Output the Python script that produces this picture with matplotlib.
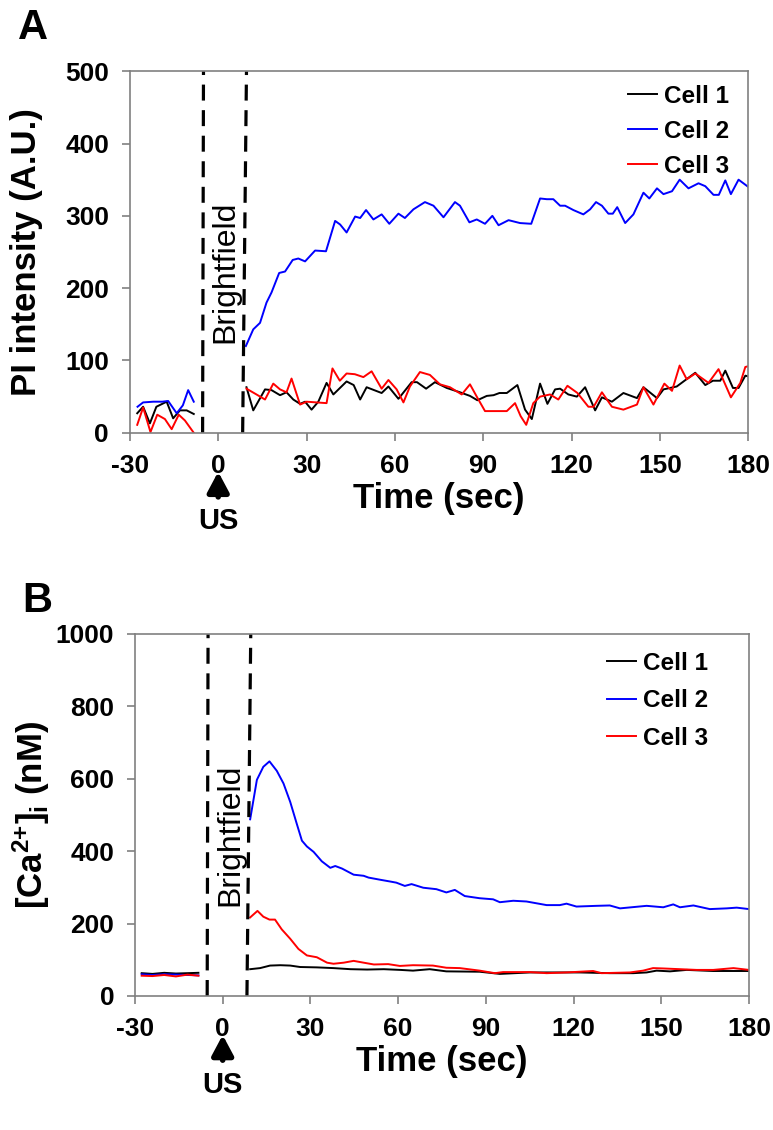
import numpy as np
import matplotlib
matplotlib.use('Agg')
import matplotlib.pyplot as plt

matplotlib.rcParams['font.family'] = ['Liberation Sans', 'DejaVu Sans']
matplotlib.rcParams['mathtext.fontset'] = 'custom'
matplotlib.rcParams['mathtext.rm'] = 'Liberation Sans'
matplotlib.rcParams['mathtext.bf'] = 'Liberation Sans:bold'
matplotlib.rcParams['axes.unicode_minus'] = False

# ---------------- Panel A: PI intensity ----------------
a_c1_pre_t = [-27.5, -25.5, -23.2, -21.0, -17.5, -15.3, -13.0, -10.7, -8.3]
a_c1_pre_v = [27, 36, 13, 36, 43, 20, 31, 31, 26]
a_c2_pre_t = [-27.4, -25.5, -22.0, -19.0, -17.0, -14.1, -12.0, -10.2, -8.3]
a_c2_pre_v = [36, 42, 43, 43, 44, 27, 38, 59, 43]
a_c3_pre_t = [-27.5, -25.5, -23.0, -20.7, -18.1, -15.8, -13.4, -11.3, -8.3]
a_c3_pre_v = [11, 35, 1, 25, 19, 5, 25, 17, 0]

a_c1_t = [9.6, 11.9, 15.9, 18.1, 21.0, 23.2, 25.5, 27.8, 29.5, 31.7, 34.0, 36.8, 39.1, 43.6, 46.0,
          48.2, 50.4, 55.5, 57.8, 61.2, 65.7, 67.5, 70.6, 73.6, 77.6, 82.1, 85.5, 88.0, 91.2, 93.5,
          95.5, 98.0, 101.6, 104.2, 106.5, 109.3, 111.8, 114.4, 116.1, 118.9, 121.8, 124.6, 128.0,
          130.3, 133.7, 137.6, 142.2, 144.4, 149.0, 151.2, 155.7, 162.0, 165.4, 168.0, 170.5, 172.2,
          174.8, 176.7, 179.0, 180.0]
a_c1_v = [63, 31, 60, 59, 52, 56, 46, 40, 43, 32, 43, 69, 53, 71, 66,
          46, 63, 55, 64, 47, 70, 70, 61, 70, 62, 56, 51, 45, 51, 52,
          55, 55, 66, 32, 19, 68, 40, 60, 61, 53, 50, 63, 31,
          49, 43, 55, 48, 63, 48, 60, 64, 83, 66, 72, 72, 86,
          62, 62, 79, 78]
a_c2_t = [9.4, 11.9, 14.2, 16.4, 18.1, 20.7, 22.7, 25.3, 27.2, 29.5, 32.9, 36.6, 39.7, 41.4, 43.6,
          46.5, 48.2, 50.2, 52.7, 55.5, 58.1, 61.2, 63.4, 66.3, 70.2, 73.1, 76.5, 80.4, 82.1, 85.3,
          87.8, 90.6, 93.1, 95.2, 98.6, 102.5, 106.3, 109.3, 111.6, 113.8, 116.1, 117.8, 120.6,
          124.0, 126.3, 128.3, 130.3, 132.5, 134.0, 135.5, 138.2, 141.0, 144.4, 146.4, 149.0, 151.2,
          154.1, 156.7, 159.7, 163.1, 165.4, 168.2, 170.0, 172.2, 174.1, 176.7, 180.0]
a_c2_v = [120, 143, 152, 180, 194, 221, 223, 239, 241, 237, 252, 251, 293, 288, 277,
          299, 297, 308, 295, 302, 289, 303, 297, 309, 319, 314, 298, 319, 314, 291,
          295, 289, 300, 287, 294, 290, 289, 324, 323, 323, 314, 314, 308,
          302, 309, 319, 314, 303, 303, 312, 290, 302, 332, 324, 338, 330,
          334, 350, 338, 345, 341, 329, 329, 349, 330, 350, 340]
a_c3_t = [9.6, 13.0, 15.9, 18.7, 21.0, 23.2, 24.9, 27.8, 30.0, 33.4, 36.8, 38.8, 41.3, 43.6, 46.4,
          49.3, 52.1, 55.5, 57.8, 60.6, 62.9, 65.1, 68.5, 71.9, 75.3, 78.7, 82.7, 85.5, 87.8, 90.6,
          95.5, 98.0, 100.8, 102.7, 104.6, 107.0, 109.3, 112.7, 115.5, 118.6, 122.0, 125.7, 127.5,
          130.3, 133.7, 137.6, 142.2, 144.4, 147.8, 151.5, 154.1, 156.7, 159.1, 162.0, 166.5, 169.9,
          174.1, 177.3, 179.0, 180.0]
a_c3_v = [61, 53, 46, 68, 60, 56, 75, 39, 43, 42, 41, 89, 72, 82, 81,
          77, 85, 61, 73, 60, 42, 64, 84, 80, 67, 63, 53, 67, 50, 30,
          30, 30, 41, 23, 11, 41, 50, 53, 46, 65, 55, 36, 36,
          56, 36, 32, 39, 63, 39, 68, 58, 93, 74, 82, 69, 88,
          49, 69, 91, 92]

# ---------------- Panel B: [Ca2+]i ----------------
b_c1_pre_t = [-27.7, -24, -20, -16, -12, -8.3]
b_c1_pre_v = [63, 61, 64, 62, 63, 64]
b_c2_pre_t = [-27.7, -24, -20, -16, -12, -8.3]
b_c2_pre_v = [60, 58, 60, 59, 58, 57]
b_c3_pre_t = [-27.7, -24, -20, -16, -12, -8.3]
b_c3_pre_v = [56, 55, 58, 54, 59, 56]

b_c1_t = [9.4, 12.8, 16.2, 19.7, 23.1, 26.5, 32.2, 37.9, 43.7, 49.4, 55.1, 60.8, 65.1, 70.8, 76.5,
          87.9, 94.8, 105.1, 113.0, 122.2, 132.4, 140.4, 145.0, 148.4, 153.0, 158.7, 167.8, 180.0]
b_c1_v = [74, 77, 84, 85, 84, 80, 79, 77, 74, 73, 74, 72, 70, 74, 68,
          67, 61, 65, 65, 65, 63, 63, 65, 70, 68, 72, 69, 69]
b_c2_t = [9.4, 11.7, 13.9, 16.0, 18.5, 20.8, 23.1, 25.4, 27.1, 28.8, 31.1, 33.9, 36.8, 38.5, 40.8,
          44.8, 48.2, 49.9, 53.9, 57.4, 59.4, 62.3, 64.6, 68.6, 73.1, 76.5, 79.4, 82.8, 87.9, 92.5,
          94.8, 99.4, 103.9, 110.8, 115.3, 117.6, 121.0, 127.9, 132.4, 135.9, 145.0, 150.7, 154.1,
          156.4, 161.0, 166.6, 172.4, 175.8, 180.0]
b_c2_v = [488, 597, 633, 648, 622, 587, 536, 474, 429, 413, 398, 372, 354, 359, 352,
          335, 332, 327, 321, 316, 313, 304, 309, 299, 295, 286, 293, 276, 270, 267,
          259, 263, 261, 251, 251, 255, 247, 249, 250, 242, 249, 245, 253,
          245, 250, 240, 242, 244, 240]
b_c3_t = [9.4, 11.9, 13.9, 16.0, 17.9, 20.2, 23.1, 25.9, 28.8, 32.2, 35.7, 37.9, 41.4, 44.8, 48.2,
          51.7, 56.6, 60.6, 65.1, 71.9, 76.5, 81.1, 87.9, 93.1, 95.9, 105.1, 110.8, 117.6, 126.7,
          129.6, 139.3, 143.8, 147.2, 150.7, 156.4, 162.1, 167.8, 174.7, 180.0]
b_c3_v = [217, 235, 219, 211, 211, 184, 158, 130, 112, 107, 92, 89, 92, 97, 92,
          87, 88, 83, 85, 84, 78, 77, 70, 63, 66, 66, 63, 65, 69,
          63, 65, 70, 77, 76, 74, 72, 72, 77, 72]

cell_names = ['Cell 1', 'Cell 2', 'Cell 3']
cell_colors = ['#000000', '#0000ff', '#ff0000']

# brightfield boundaries (bottom, top of axis)
dash1_t = [-5.3, -5.0]
dash2_t = [8.3, 9.6]

x_ticks = [-30, 0, 30, 60, 90, 120, 150, 180]

fig = plt.figure(figsize=(7.73, 11.3), dpi=100)
ax_a = fig.add_axes([0.168, 0.617, 0.800, 0.320])
ax_b = fig.add_axes([0.1746, 0.1186, 0.7943, 0.3204])

panels = [
  (ax_a, 500, [0, 100, 200, 300, 400, 500], 'PI intensity (A.U.)',
   [(a_c1_pre_t, a_c1_pre_v, a_c1_t, a_c1_v), (a_c2_pre_t, a_c2_pre_v, a_c2_t, a_c2_v),
    (a_c3_pre_t, a_c3_pre_v, a_c3_t, a_c3_v)], 'A', (0.985, 0.99), 0.5, (-0.181, 1.12), -0.141),
  (ax_b, 1000, [0, 200, 400, 600, 800, 1000], r'$\mathbf{[Ca^{2{+}}]_i}$ (nM)',
   [(b_c1_pre_t, b_c1_pre_v, b_c1_t, b_c1_v), (b_c2_pre_t, b_c2_pre_v, b_c2_t, b_c2_v),
    (b_c3_pre_t, b_c3_pre_v, b_c3_t, b_c3_v)], 'B', (0.95, 0.978), 0.6, (-0.184, 1.09), -0.135),
]

for ax, ymax, yticks, ylabel, series, letter, leg_anchor, leg_space, letter_xy, ylab_x in panels:
  for (pt, pv, t, v), name, col in zip(series, cell_names, cell_colors):
    ax.plot(pt, pv, color=col, lw=1.4)
    ax.plot(t, v, color=col, lw=1.4, label=name)

  for dt in [dash1_t, dash2_t]:
    ax.plot(dt, [0, ymax], color='black', lw=2.3, linestyle=(0, (5, 3)))

  ax.text(2.5, ymax * 0.445, 'Brightfield', rotation=90, ha='center', va='center', fontsize=23)

  ax.set_xlim(-30, 180)
  ax.set_ylim(0, ymax)
  ax.set_xticks(x_ticks)
  ax.set_yticks(yticks)
  for lab in ax.get_xticklabels() + ax.get_yticklabels():
    lab.set_fontweight('bold')
    lab.set_fontsize(19)
  for pos in ['top', 'bottom', 'right', 'left']:
    ax.spines[pos].set_color('#808080')
    ax.spines[pos].set_linewidth(1.2)
  ax.tick_params(direction='out', length=6, width=1.2, color='#808080', pad=9)

  ax.set_ylabel(ylabel, fontsize=25, fontweight='bold')
  ax.yaxis.set_label_coords(ylab_x, 0.5)
  ax.set_xlabel('Time (sec)', fontsize=25, fontweight='bold', labelpad=3)

  leg = ax.legend(loc='upper right', bbox_to_anchor=leg_anchor, frameon=False, fontsize=17.5,
                  handlelength=1.2, handletextpad=0.3, labelspacing=leg_space, borderaxespad=0)
  for txt in leg.get_texts():
    txt.set_fontweight('bold')

  # ultrasound arrow
  ax.annotate('', xy=(0, -0.10), xycoords=('data', 'axes fraction'),
              xytext=(0, -0.185), textcoords=('data', 'axes fraction'),
              arrowprops=dict(arrowstyle='-|>,head_width=0.32,head_length=0.6',
                              mutation_scale=20, color='black', lw=4), annotation_clip=False)
  ax.text(0, -0.245, 'US', transform=ax.get_xaxis_transform(), ha='center', va='center',
          fontsize=21, fontweight='bold')

  ax.text(letter_xy[0], letter_xy[1], letter, transform=ax.transAxes, fontsize=30,
          fontweight='bold', ha='left', va='center')

fig.savefig('out.png', dpi=100)
